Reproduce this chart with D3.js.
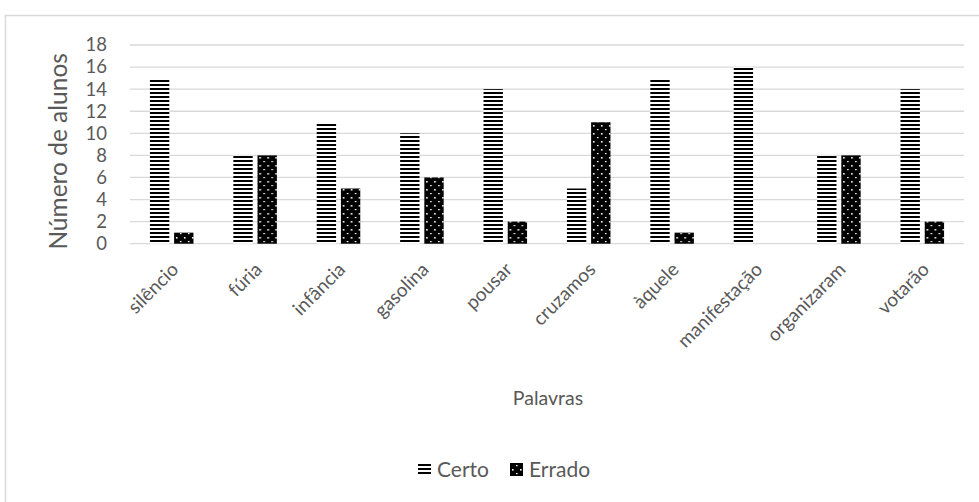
<!DOCTYPE html>
<html>
<head>
<meta charset="utf-8">
<script src="https://cdn.jsdelivr.net/npm/d3@7/dist/d3.min.js"></script>
<style>
  html, body { margin: 0; padding: 0; background: #fff; }
  svg { display: block; }
  text { font-family: Lato, "Open Sans", sans-serif; fill: #595959; }
</style>
</head>
<body>
<svg id="chart" width="979" height="502"></svg>
<script>
// Palavras avaliadas e número de alunos por resposta
const categories = ["silêncio", "fúria", "infância", "gasolina", "pousar", "cruzamos", "àquele", "manifestação", "organizaram", "votarão"];
const certo = [15, 8, 11, 10, 14, 5, 15, 16, 8, 14];
const errado = [1, 8, 5, 6, 2, 11, 1, 0, 8, 2];
const seriesNames = ["Certo", "Errado"];
const yTicks = [0, 2, 4, 6, 8, 10, 12, 14, 16, 18];

const svg = d3.select("#chart");
const W = 979, H = 502;
const plot = { left: 130, right: 964, top: 45, bottom: 243.7 };

// moldura da área do gráfico
svg.append("rect")
  .attr("x", 5.5).attr("y", 15.5)
  .attr("width", W + 10).attr("height", H + 10)
  .attr("fill", "none").attr("stroke", "#d9d9d9").attr("stroke-width", 1.5);

// padrões de preenchimento
const defs = svg.append("defs");
const pH = defs.append("pattern").attr("id", "pat-certo")
  .attr("patternUnits", "userSpaceOnUse").attr("width", 4).attr("height", 4);
pH.append("rect").attr("width", 4).attr("height", 4).attr("fill", "#fff");
pH.append("rect").attr("y", 0).attr("width", 4).attr("height", 2).attr("fill", "#000");

const pD = defs.append("pattern").attr("id", "pat-errado")
  .attr("patternUnits", "userSpaceOnUse").attr("width", 8).attr("height", 8);
pD.append("rect").attr("width", 8).attr("height", 8).attr("fill", "#000");
pD.append("rect").attr("x", 2).attr("y", 5).attr("width", 1.6).attr("height", 1.6).attr("fill", "#fff");
pD.append("rect").attr("x", 6).attr("y", 1).attr("width", 1.6).attr("height", 1.2).attr("fill", "#fff");

const fills = { Certo: "url(#pat-certo)", Errado: "url(#pat-errado)" };

const x0 = d3.scaleBand().domain(categories).range([plot.left, plot.right]).paddingInner(0.478).paddingOuter(0.239);
const x1 = d3.scaleBand().domain(seriesNames).range([0, x0.bandwidth()]).paddingInner(0.2);
const y = d3.scaleLinear().domain([0, 18]).range([plot.bottom, plot.top]);

// linhas de grade
svg.append("g").selectAll("line").data(yTicks).join("line")
  .attr("x1", plot.left).attr("x2", plot.right)
  .attr("y1", d => y(d)).attr("y2", d => y(d))
  .attr("stroke", "#d9d9d9").attr("stroke-width", 1.3);

// eixo Y
const yAxis = d3.axisLeft(y).tickValues(yTicks).tickSize(0).tickPadding(0);
const gy = svg.append("g").attr("transform", `translate(${plot.left - 23},0)`).call(yAxis);
gy.select(".domain").remove();
gy.selectAll("text").style("font-size", "18.5px").style("fill", "#595959")
  .style("font-family", "Lato, 'Open Sans', sans-serif");

// barras
const rows = categories.map((c, i) => ({ cat: c, values: [
  { key: "Certo", value: certo[i] }, { key: "Errado", value: errado[i] }] }));
const groups = svg.append("g").selectAll("g").data(rows).join("g")
  .attr("transform", d => `translate(${x0(d.cat)},0)`);
groups.selectAll("rect").data(d => d.values.filter(v => v.value > 0)).join("rect")
  .attr("x", d => x1(d.key))
  .attr("width", x1.bandwidth())
  .attr("y", d => y(d.value))
  .attr("height", d => y(0) - y(d.value))
  .attr("fill", d => fills[d.key]);

// eixo X com rótulos inclinados
const xAxis = d3.axisBottom(x0).tickSize(0).tickPadding(0);
const gx = svg.append("g").attr("transform", `translate(0,${plot.bottom})`).call(xAxis);
gx.select(".domain").remove();
gx.selectAll("text")
  .style("font-size", "19px").style("fill", "#595959")
  .style("font-family", "Lato, 'Open Sans', sans-serif")
  .attr("text-anchor", "end")
  .attr("dy", "0")
  .attr("y", 0)
  .attr("transform", "translate(8,27) rotate(-45)");

// títulos dos eixos
svg.append("text")
  .attr("transform", `translate(67,${(plot.top + plot.bottom) / 2 + 7}) rotate(-90)`)
  .attr("text-anchor", "middle")
  .style("font-size", "24.5px")
  .text("Número de alunos");

svg.append("text")
  .attr("x", 548).attr("y", 405)
  .attr("text-anchor", "middle")
  .style("font-size", "19.5px")
  .text("Palavras");

// legenda
const legendX = [418, 510];
const items = svg.append("g").selectAll("g").data(seriesNames).join("g")
  .attr("transform", (d, i) => `translate(${legendX[i]},0)`);
items.append("rect").attr("x", 0).attr("y", 463).attr("width", 13).attr("height", 13)
  .attr("fill", d => fills[d]);
items.append("text").attr("x", 19).attr("y", 477)
  .style("font-size", "21px").text(d => d);
</script>
</body>
</html>
